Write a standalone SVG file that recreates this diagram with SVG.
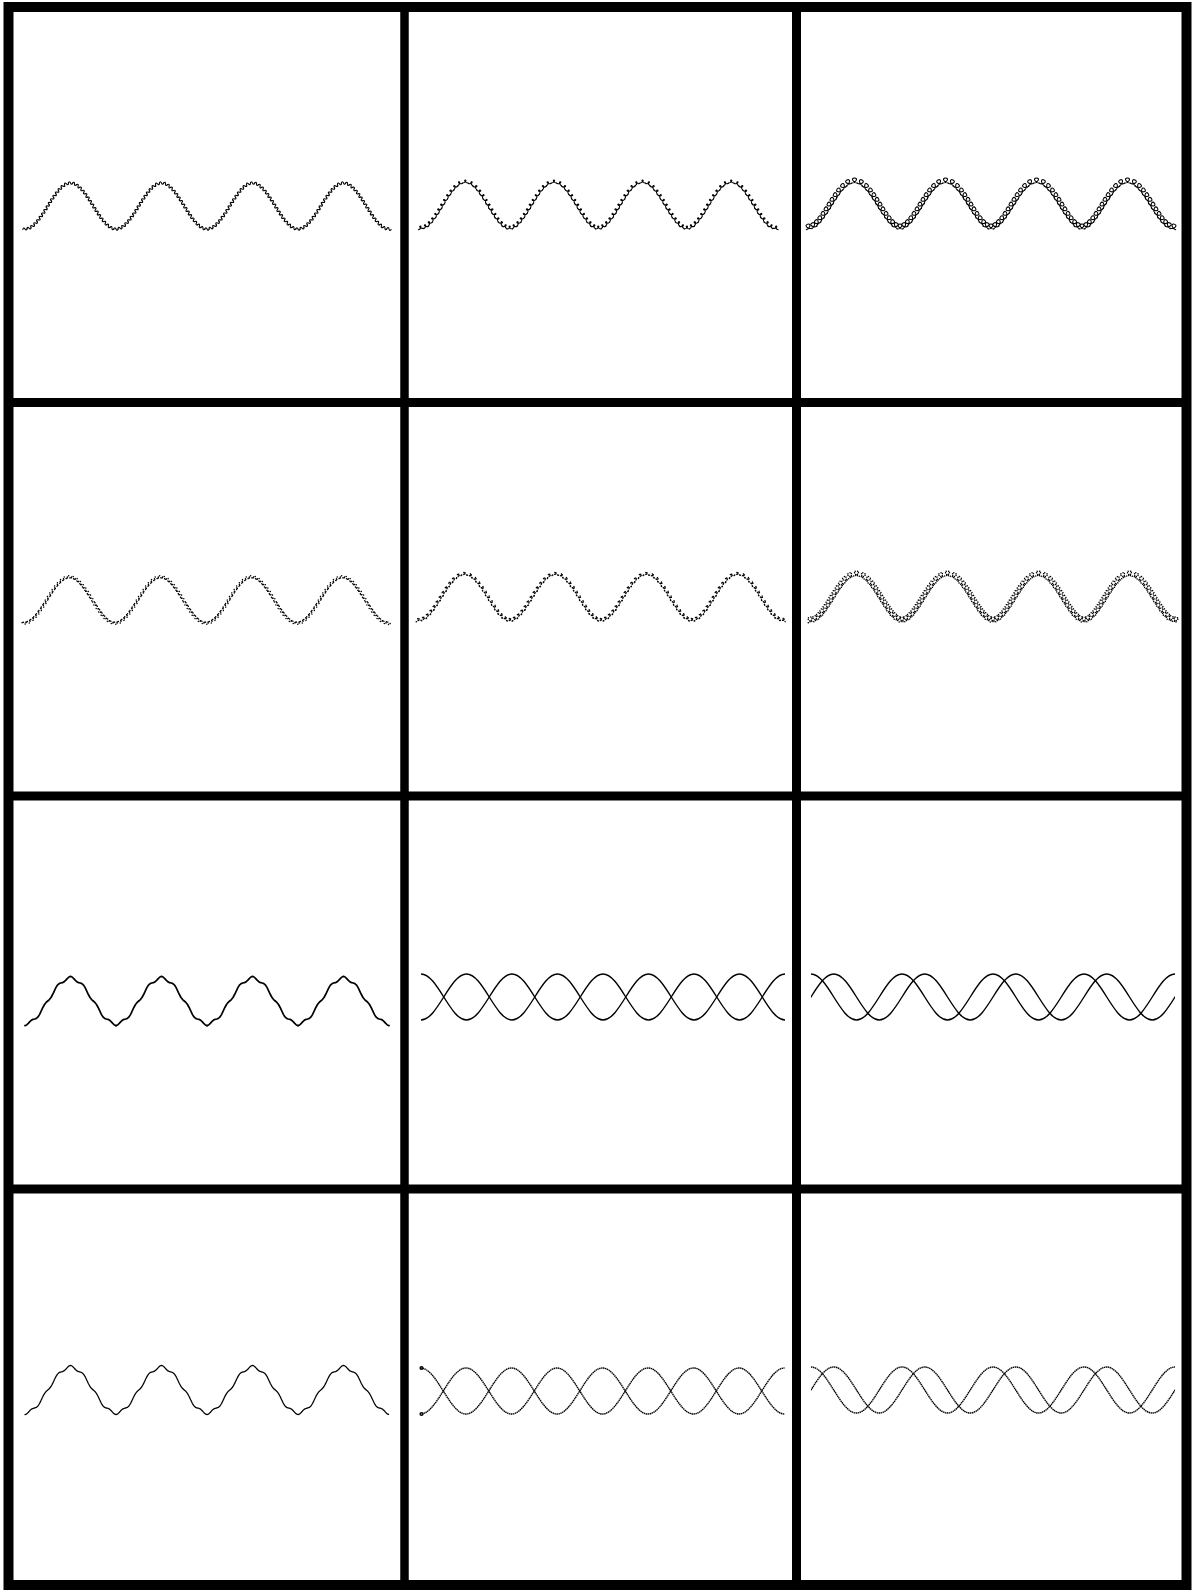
<svg xmlns="http://www.w3.org/2000/svg" width="1192" height="1591" viewBox="0 0 1192 1591">
<style>
.bg{fill:#fff}
.grid{fill:none;stroke:#000}
.k{fill:none;stroke:#000;stroke-width:1.1;stroke-linecap:round;stroke-linejoin:round}
.kd{fill:none;stroke:#000;stroke-width:1.5;stroke-linecap:round;stroke-dasharray:0.01 2}
.wA{fill:none;stroke:none;marker:url(#mA)}
.wAd{fill:none;stroke:none;marker:url(#mAd)}
.wB{fill:none;stroke:none;marker:url(#mB)}
.wC{fill:none;stroke:none;marker:url(#mC)}
.wBd{fill:none;stroke:none;marker:url(#mBd)}
.wCd{fill:none;stroke:none;marker:url(#mCd)}
.h{fill:none;stroke:#000;stroke-width:1.7;stroke-linecap:round;stroke-linejoin:round}
.hd{fill:none;stroke:#000;stroke-width:1.3;stroke-linecap:round;stroke-dasharray:0.9 0.6}
.s{fill:none;stroke:#000;stroke-width:1.4}
.sd{fill:none;stroke:#000;stroke-width:1.4;stroke-dasharray:1.5 0.5}
</style>
<defs>
<marker id="mA" markerUnits="userSpaceOnUse" orient="auto" overflow="visible" markerWidth="10" markerHeight="10"><path class="k" d="M-2.15,0 C-1.5,-1.7 -0.65,-1.7 0,0 C0.65,1.7 1.5,1.7 2.15,0"/></marker>
<marker id="mAd" markerUnits="userSpaceOnUse" orient="auto" overflow="visible" markerWidth="10" markerHeight="10"><path class="kd" d="M-2.15,0 C-1.5,-1.7 -0.65,-1.7 0,0 C0.65,1.7 1.5,1.7 2.15,0"/></marker>
<marker id="mB" markerUnits="userSpaceOnUse" orient="auto" overflow="visible" markerWidth="10" markerHeight="10"><path class="k" d="M-2.79,0 C0,0 1.6,-3 0,-3 C-1.6,-3 0,0 2.79,0"/></marker>
<marker id="mC" markerUnits="userSpaceOnUse" orient="auto" overflow="visible" markerWidth="10" markerHeight="10"><path class="k" d="M-2.79,0 C1.01,0 4.2,-5 0,-5 C-4.2,-5 -1.01,0 2.79,0"/></marker>
<marker id="mBd" markerUnits="userSpaceOnUse" orient="auto" overflow="visible" markerWidth="10" markerHeight="10"><path class="kd" d="M-2.79,0 C0,0 1.6,-3 0,-3 C-1.6,-3 0,0 2.79,0"/></marker>
<marker id="mCd" markerUnits="userSpaceOnUse" orient="auto" overflow="visible" markerWidth="10" markerHeight="10"><path class="kd" d="M-2.79,0 C1.01,0 4.2,-5 0,-5 C-4.2,-5 -1.01,0 2.79,0"/></marker>
<path id="pk" d="M22.75,0 L24.99,-3.55 27.27,-7.07 29.64,-10.53 32.13,-13.88 34.87,-17.08 37.91,-19.91 41.46,-22.11 45.5,-23 49.54,-22.11 53.09,-19.91 56.13,-17.08 58.87,-13.88 61.36,-10.53 63.73,-7.07 66.01,-3.55 68.25,0"/>
<path id="tr" d="M111.51,3.55 L109.23,7.07 106.86,10.53 104.37,13.88 101.63,17.08 98.59,19.91 95.04,22.11 91,23 86.96,22.11 83.41,19.91 80.37,17.08 77.63,13.88 75.14,10.53 72.77,7.07 70.49,3.55"/>
<g id="rw">
<path d="M20.51,3.55 L18.23,7.07 15.86,10.53 13.37,13.88 10.63,17.08 7.59,19.91 4.04,22.11 0,23"/>
<use href="#pk"/><use href="#pk" x="91"/><use href="#pk" x="182"/><use href="#pk" x="273"/>
<use href="#tr"/><use href="#tr" x="91"/><use href="#tr" x="182"/>
<path d="M364,23 L359.96,22.11 356.41,19.91 353.37,17.08 350.63,13.88 348.14,10.53 345.77,7.07 343.49,3.55"/>
</g>
<polyline id="cw" points="0,23 5.28,21.49 9.67,18.07 13.37,13.88 16.67,9.38 19.76,4.72 22.75,0 25.74,-4.72 28.84,-9.38 32.13,-13.88 35.83,-18.07 40.22,-21.49 45.5,-23 50.78,-21.49 55.17,-18.07 58.87,-13.88 62.17,-9.38 65.26,-4.72 68.25,0 71.24,4.72 74.34,9.38 77.63,13.88 81.33,18.07 85.72,21.49 91,23 96.28,21.49 100.67,18.07 104.37,13.88 107.67,9.38 110.76,4.72 113.75,0 116.74,-4.72 119.84,-9.38 123.13,-13.88 126.83,-18.07 131.22,-21.49 136.5,-23 141.78,-21.49 146.17,-18.07 149.87,-13.88 153.17,-9.38 156.26,-4.72 159.25,0 162.24,4.72 165.34,9.38 168.63,13.88 172.33,18.07 176.72,21.49 182,23 187.28,21.49 191.67,18.07 195.37,13.88 198.67,9.38 201.76,4.72 204.75,0 207.74,-4.72 210.84,-9.38 214.13,-13.88 217.83,-18.07 222.22,-21.49 227.5,-23 232.78,-21.49 237.17,-18.07 240.87,-13.88 244.17,-9.38 247.26,-4.72 250.25,0 253.24,4.72 256.34,9.38 259.63,13.88 263.33,18.07 267.72,21.49 273,23 278.28,21.49 282.67,18.07 286.37,13.88 289.67,9.38 292.76,4.72 295.75,0 298.74,-4.72 301.84,-9.38 305.13,-13.88 308.83,-18.07 313.22,-21.49 318.5,-23 323.78,-21.49 328.17,-18.07 331.87,-13.88 335.17,-9.38 338.26,-4.72 341.25,0 344.24,4.72 347.34,9.38 350.63,13.88 354.33,18.07 358.72,21.49 364,23"/>
<polyline id="hp" points="0,24.6 1.625,23.99 3.25,22.42 4.875,20.58 6.5,19.12 8.125,18.34 9.75,17.98 11.375,17.39 13,15.94 14.625,13.37 16.25,9.98 17.875,6.47 19.5,3.52 21.125,1.44 22.75,0 24.375,-1.44 26,-3.52 27.625,-6.47 29.25,-9.98 30.875,-13.37 32.5,-15.94 34.125,-17.39 35.75,-17.98 37.375,-18.34 39,-19.12 40.625,-20.58 42.25,-22.42 43.875,-23.99 45.5,-24.6 47.125,-23.99 48.75,-22.42 50.375,-20.58 52,-19.12 53.625,-18.34 55.25,-17.98 56.875,-17.39 58.5,-15.94 60.125,-13.37 61.75,-9.98 63.375,-6.47 65,-3.52 66.625,-1.44 68.25,0 69.875,1.44 71.5,3.52 73.125,6.47 74.75,9.98 76.375,13.37 78,15.94 79.625,17.39 81.25,17.98 82.875,18.34 84.5,19.12 86.125,20.58 87.75,22.42 89.375,23.99 91,24.6"/>
<g id="h4"><use href="#hp"/><use href="#hp" x="91"/><use href="#hp" x="182"/><use href="#hp" x="273"/></g>
<path id="s5" d="M0,-23 c8.23,0 15.33,11.22 22.75,23 s14.52,23 22.75,23 s15.33,-11.22 22.75,-23 s14.52,-23 22.75,-23 s15.33,11.22 22.75,23 s14.52,23 22.75,23 s15.33,-11.22 22.75,-23 s14.52,-23 22.75,-23 s15.33,11.22 22.75,23 s14.52,23 22.75,23 s15.33,-11.22 22.75,-23 s14.52,-23 22.75,-23 s15.33,11.22 22.75,23 s14.52,23 22.75,23 s15.33,-11.22 22.75,-23 s14.52,-23 22.75,-23 s15.33,11.22 22.75,23 s14.52,23 22.75,23 s15.33,-11.22 22.75,-23 s14.52,-23 22.75,-23"/>
<clipPath id="c32"><rect x="421" y="960" width="364" height="80"/></clipPath>
<clipPath id="c33"><rect x="811" y="960" width="364" height="80"/></clipPath>
<clipPath id="c42"><rect x="420.5" y="1350" width="364" height="80"/></clipPath>
<clipPath id="c43"><rect x="811" y="1350" width="364" height="80"/></clipPath>
</defs>
<rect class="bg" x="0" y="0" width="1192" height="1591"/>
<g id="grid" class="grid">
<rect x="8.5" y="7" width="1178" height="1578" stroke-width="10"/>
<line x1="404.5" y1="7" x2="404.5" y2="1585" stroke-width="8.5"/>
<line x1="796.5" y1="7" x2="796.5" y2="1585" stroke-width="9"/>
<line x1="8.5" y1="402.5" x2="1186.5" y2="402.5" stroke-width="9"/>
<line x1="8.5" y1="796" x2="1186.5" y2="796" stroke-width="9"/>
<line x1="8.5" y1="1189" x2="1186.5" y2="1189" stroke-width="9"/>
</g>
<g id="p11"><use href="#rw" class="wA" transform="translate(25,206)"/></g>
<g id="p12"><use href="#cw" class="wB" transform="translate(421,206) scale(0.974,1)"/></g>
<g id="p13"><use href="#cw" class="wC" transform="translate(809,206)"/></g>
<g id="p21"><use href="#rw" class="wAd" transform="translate(24,600)"/></g>
<g id="p22"><use href="#cw" class="wBd" transform="translate(419,598)"/></g>
<g id="p23"><use href="#cw" class="wCd" transform="translate(811,599)"/></g>
<g id="p31"><use href="#h4" class="h" transform="translate(25,1001)"/></g>
<g id="p32" clip-path="url(#c32)"><use href="#s5" class="s" transform="translate(421,997)"/><use href="#s5" class="s" transform="translate(375.5,997)"/></g>
<g id="p33" clip-path="url(#c33)"><use href="#s5" class="s" transform="translate(811,997)"/><use href="#s5" class="s" transform="translate(742.75,997)"/></g>
<g id="p41"><use href="#h4" class="hd" transform="translate(25,1390)"/></g>
<g id="p42"><g clip-path="url(#c42)"><use href="#s5" class="sd" transform="translate(420.5,1391)"/><use href="#s5" class="sd" transform="translate(375,1391)"/></g><circle cx="421.5" cy="1368" r="1.4" class="s" stroke-width="1"/><circle cx="421.5" cy="1414" r="1.4" class="s" stroke-width="1"/></g>
<g id="p43" clip-path="url(#c43)"><use href="#s5" class="sd" transform="translate(811,1390)"/><use href="#s5" class="sd" transform="translate(742.75,1390)"/></g>
</svg>
